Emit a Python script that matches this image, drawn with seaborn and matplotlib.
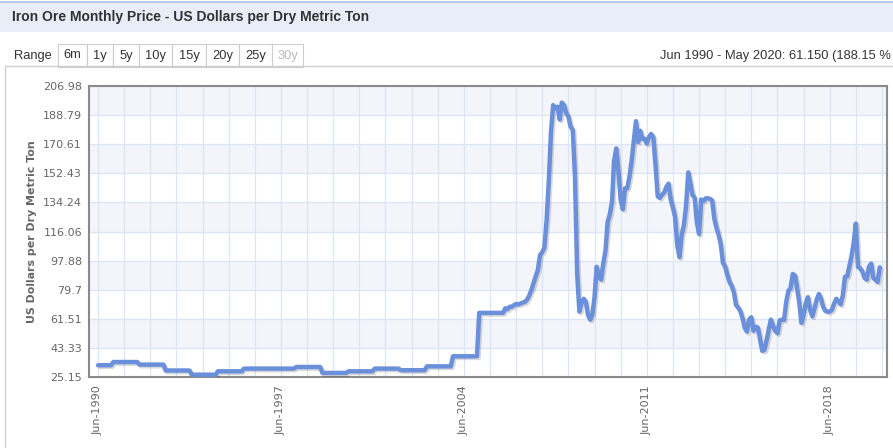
import numpy as np
import pandas as pd
import matplotlib
matplotlib.use("Agg")
import matplotlib.pyplot as plt
import matplotlib.dates as mdates
import matplotlib.patheffects as pe
from matplotlib.patches import Rectangle
from matplotlib.lines import Line2D
import seaborn as sns

TITLE = "Iron Ore Monthly Price - US Dollars per Dry Metric Ton"
Y_LABEL = "US Dollars per Dry Metric Ton"
RANGE_LABEL = "Range"
RANGE_BUTTONS = ["6m", "1y", "5y", "10y", "15y", "20y", "25y", "30y"]
SUMMARY = "Jun 1990 - May 2020: 61.150 (188.15 %"
Y_TICKS = [25.15, 43.33, 61.51, 79.7, 97.88, 116.06, 134.24, 152.43, 170.61, 188.79, 206.98]
X_TICK_LABELS = ["Jun-1990", "Jun-1997", "Jun-2004", "Jun-2011", "Jun-2018"]

# Annual contract prices, held for every month of the year (Jun 1990 - Dec 2004)
contract_years = list(range(1990, 2005))
contract_prices = [32.50, 34.50, 32.90, 29.20, 26.60, 28.70, 30.40, 30.40,
                   31.40, 27.70, 28.70, 30.40, 29.40, 31.80, 38.10]

# Monthly prices, Jan 2005 - May 2020
monthly_2005 = [65.2] * 12
monthly_2006 = [68.1, 67.5, 69.0, 69.0, 70.0, 70.8, 70.5, 71.0, 71.6, 72.0, 73.5, 76.0]
monthly_2007 = [79.5, 84.0, 88.0, 92.0, 101.4, 103.0, 106.0, 123.0, 148.0, 178.0, 195.0, 193.0]
monthly_2008 = [194.0, 186.0, 196.6, 195.0, 190.0, 187.8, 181.6, 179.5, 150.0, 90.0, 66.0, 71.2]
monthly_2009 = [74.0, 72.0, 64.0, 61.0, 64.0, 75.0, 94.0, 88.0, 86.0, 96.0, 104.0, 122.0]
monthly_2010 = [127.0, 135.0, 160.0, 168.0, 154.0, 136.0, 130.0, 143.0, 143.0, 150.0, 160.0, 172.0]
monthly_2011 = [185.0, 172.0, 179.0, 174.0, 174.0, 171.0, 175.0, 177.0, 175.0, 158.0, 138.0, 137.0]
monthly_2012 = [139.0, 140.5, 144.0, 146.0, 136.0, 131.0, 125.0, 107.0, 100.0, 114.0, 120.0, 132.0]
monthly_2013 = [153.0, 146.0, 139.0, 137.0, 122.0, 114.5, 136.0, 135.0, 136.8, 136.8, 136.5, 135.5]
monthly_2014 = [124.0, 118.0, 114.0, 108.0, 96.5, 94.0, 89.0, 84.5, 82.0, 78.0, 70.0, 68.5]
monthly_2015 = [66.0, 61.5, 56.0, 53.5, 61.0, 62.5, 54.0, 56.6, 56.0, 49.0, 41.5, 42.0]
monthly_2016 = [48.0, 55.0, 61.0, 57.0, 54.0, 52.5, 60.5, 61.0, 60.8, 72.0, 79.0, 80.6]
monthly_2017 = [89.5, 88.5, 81.0, 72.0, 59.0, 64.0, 71.0, 75.0, 67.0, 63.0, 68.0, 73.5]
monthly_2018 = [77.0, 74.0, 69.0, 66.5, 66.0, 66.0, 67.0, 71.0, 74.0, 72.5, 70.5, 76.0]
monthly_2019 = [87.8, 88.0, 94.0, 100.3, 108.5, 121.0, 94.0, 93.0, 91.0, 87.0, 86.0, 94.0]
monthly_2020 = [96.0, 87.0, 86.0, 84.5, 93.65]

# ---- assemble the monthly table ----
months_per_year = [7] + [12] * (len(contract_years) - 1)   # series starts in June 1990
early = list(np.repeat(contract_prices, months_per_year))
late = (monthly_2005 + monthly_2006 + monthly_2007 + monthly_2008 + monthly_2009
        + monthly_2010 + monthly_2011 + monthly_2012 + monthly_2013 + monthly_2014
        + monthly_2015 + monthly_2016 + monthly_2017 + monthly_2018 + monthly_2019
        + monthly_2020)
dates = pd.date_range("1990-06-01", "2020-05-01", freq="MS")
df = pd.DataFrame({"date": dates, "price": early + late})

# ---- figure ----
sns.set_theme(style="white")
plt.rcParams["font.family"] = ["DejaVu Sans"]

W, H = 893, 448
fig = plt.figure(figsize=(W / 100, H / 100), dpi=100)
fig.patch.set_facecolor("white")

def fx(px):
    return px / W

def fy(py):
    return 1 - py / H

# title bar
fig.add_artist(Rectangle((0, fy(32)), 1, (32 - 3) / H, transform=fig.transFigure,
                         facecolor="#e8edf8", edgecolor="none", zorder=0))
fig.add_artist(Line2D([0, 1], [fy(2.5), fy(2.5)], transform=fig.transFigure,
                      color="#a9bde6", lw=1.2))
fig.text(fx(12), fy(17.5), TITLE, fontsize=10, fontweight="bold", color="#333333",
         family="Liberation Sans", va="center", ha="left")

# range selector row
fig.text(fx(14), fy(55.5), RANGE_LABEL, fontsize=9.3, color="#333333",
         family="Liberation Sans", va="center", ha="left")
edges = [58, 87, 113, 139, 172, 206, 239, 272, 303]
for i, lab in enumerate(RANGE_BUTTONS):
    x0, x1 = edges[i], edges[i + 1]
    fig.add_artist(Rectangle((fx(x0), fy(67)), fx(x1 - x0), (67 - 44) / H,
                             transform=fig.transFigure, facecolor="white",
                             edgecolor="#cccccc", lw=0.8))
    fig.text(fx((x0 + x1) / 2), fy(55.5), lab, fontsize=9.3,
             color="#bbbbbb" if lab == "30y" else "#333333",
             family="Liberation Sans", va="center", ha="center")
fig.text(fx(891), fy(55.5), SUMMARY, fontsize=9.3, color="#333333",
         family="Liberation Sans", va="center", ha="right")

# chart container border
fig.add_artist(Line2D([fx(5), 1], [fy(66), fy(66)], transform=fig.transFigure,
                      color="#cfcfcf", lw=1))
fig.add_artist(Line2D([fx(5), fx(5)], [fy(66), 0], transform=fig.transFigure,
                      color="#cfcfcf", lw=1))

# plot area
ax = fig.add_axes([fx(89), fy(377), fx(887 - 89), (377 - 86) / H])
ax.set_facecolor("white")
for i in range(1, len(Y_TICKS) - 1, 2):
    ax.axhspan(Y_TICKS[i], Y_TICKS[i + 1], color="#f3f5fb", zorder=0, lw=0)

sns.lineplot(data=df, x="date", y="price", ax=ax, color="#6a8fdb", linewidth=3.2,
             zorder=3,
             path_effects=[pe.SimpleLineShadow(offset=(1.2, -1.2), shadow_color="black",
                                               alpha=0.15),
                           pe.Normal()])

ax.set_ylim(Y_TICKS[0], Y_TICKS[-1])
ax.set_yticks(Y_TICKS)
ax.set_yticklabels([f"{v:g}" for v in Y_TICKS])
ax.set_xlim(pd.Timestamp("1990-01-26"), pd.Timestamp("2020-08-10"))

major = [pd.Timestamp(f"{lab.split('-')[1]}-06-01") for lab in X_TICK_LABELS]
ax.set_xticks(major)
ax.set_xticklabels(X_TICK_LABELS, rotation=90)
ax.xaxis.set_minor_locator(mdates.MonthLocator(bymonth=6, bymonthday=1))

ax.grid(which="both", axis="x", color="#dbe5f8", lw=0.9, zorder=1)
ax.grid(which="major", axis="y", color="#dbe5f8", lw=0.9, zorder=1)
ax.set_axisbelow(True)

ax.tick_params(axis="y", length=0, pad=5, labelsize=8, labelcolor="#666666")
ax.tick_params(axis="x", which="both", length=0, pad=6, labelsize=8, labelcolor="#666666")
ax.set_xlabel("")
ax.set_ylabel(Y_LABEL, fontsize=7.9, fontweight="bold", color="#666666", labelpad=4)

for s in ax.spines.values():
    s.set_color("#8a8a8a")
    s.set_linewidth(1.5)
    s.set_visible(True)

fig.savefig("out.png", dpi=100)
